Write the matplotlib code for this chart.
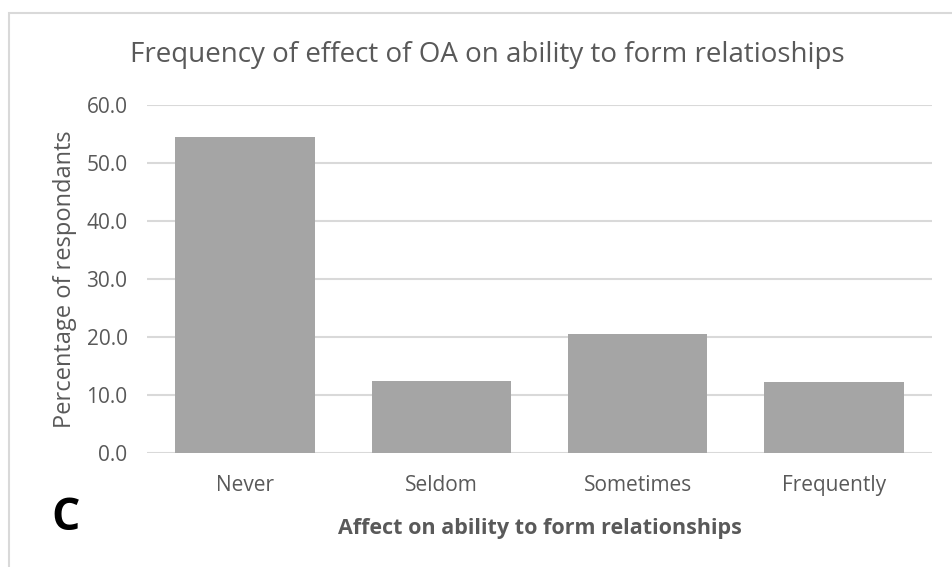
import matplotlib
matplotlib.use('Agg')
import matplotlib.pyplot as plt
from matplotlib.patches import Rectangle

# data
categories = ["Never", "Seldom", "Sometimes", "Frequently"]
percentages = [54.4, 12.5, 20.5, 12.3]
y_ticks = [0, 10, 20, 30, 40, 50, 60]

TEXT = "#595959"
BAR = "#A5A5A5"
GRID = "#D9D9D9"

plt.rcParams['font.family'] = ['Open Sans', 'DejaVu Sans']

fig = plt.figure(figsize=(9.52, 5.67), dpi=100)
W, H = 952, 567

# light border round the chart area (only top/left visible in the crop)
fig.patches.append(Rectangle((9 / W, -0.1), 1.2, 1 - 13 / H + 0.1,
                             transform=fig.transFigure, fill=False,
                             edgecolor=GRID, linewidth=1.5))

ax = fig.add_axes([147 / W, 1 - 453 / H, (932 - 147) / W, (453 - 105) / H])
ax.bar(range(len(categories)), percentages, width=0.71, color=BAR, zorder=2)

ax.set_xlim(-0.5, len(categories) - 0.5)
ax.set_ylim(0, 60)
ax.set_yticks(y_ticks)
ax.set_yticklabels([f"{v:.1f}" for v in y_ticks])
ax.set_xticks(range(len(categories)))
ax.set_xticklabels(categories)
ax.tick_params(axis='both', length=0, labelsize=15, colors=TEXT)
ax.tick_params(axis='y', pad=14)
ax.tick_params(axis='x', pad=16)
ax.yaxis.grid(True, color=GRID, linewidth=1.5, zorder=0)
for s in ax.spines.values():
    s.set_visible(False)

ax.set_ylabel("Percentage of respondants", fontsize=17, color=TEXT, labelpad=7)
ax.set_xlabel("Affect on ability to form relationships", fontsize=15.5,
              color=TEXT, fontweight='bold', labelpad=16)

fig.text(487 / W, 1 - 55 / H, "Frequency of effect of OA on ability to form relatioships",
         ha='center', va='center', fontsize=20, color=TEXT)
fig.text(66 / W, 1 - 519 / H, "C", ha='center', va='center',
         fontsize=32, fontweight='bold', color='black')

fig.savefig("out.png", dpi=100)
